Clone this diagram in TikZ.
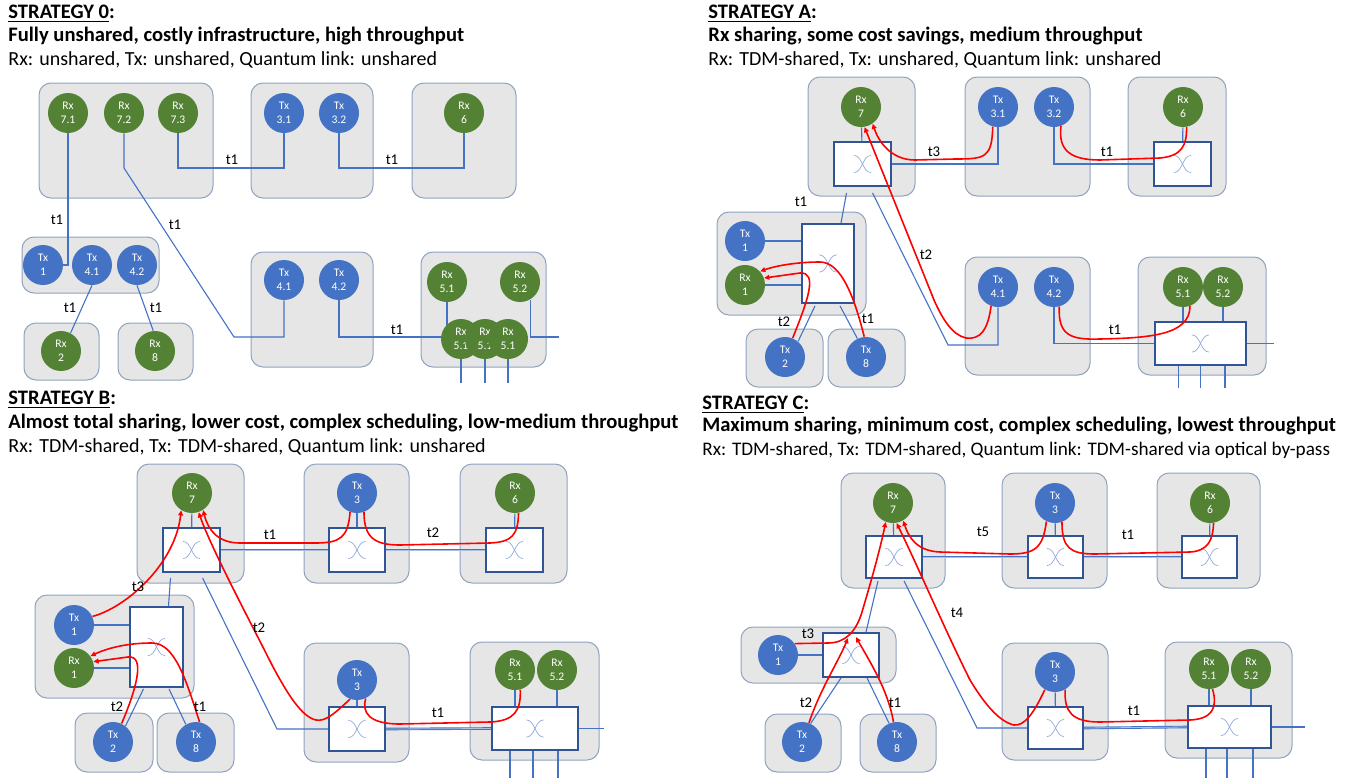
\documentclass[tikz,border=0pt]{standalone}
\usepackage{fontspec}
\setmainfont{Carlito}
\usetikzlibrary{arrows.meta,calc}
\definecolor{boxfill}{HTML}{E6E6E6}
\definecolor{boxline}{HTML}{8FA3C0}
\definecolor{rxgreen}{HTML}{548235}
\definecolor{txblue}{HTML}{4472C4}
\definecolor{swline}{HTML}{2F5597}
\definecolor{linkblue}{HTML}{4472C4}
\definecolor{symline}{HTML}{8FAADC}
\definecolor{tdmred}{HTML}{FF0000}
\pgfdeclarelayer{boxes}
\pgfdeclarelayer{links}
\pgfsetlayers{boxes,links,main}
\newcommand{\devfont}{\fontsize{5.8}{6.8}\selectfont}
\newcommand{\lblfont}{\fontsize{7.4}{8.5}\selectfont}
\newcommand{\headfont}{\fontsize{10.3}{12}\selectfont}
\newcommand{\subfont}{\fontsize{10}{12}\selectfont}
\begin{document}
\begin{tikzpicture}[x=0.5pt,y=-0.5pt,
  box/.style={fill=boxfill, draw=boxline, line width=0.5pt, rounded corners=6pt},
  dev/.style={circle, inner sep=0pt, minimum size=20pt, text=white, font=\devfont, align=center},
  rx/.style={dev, fill=rxgreen},
  tx/.style={dev, fill=txblue},
  sw/.style={rectangle, draw=swline, line width=0.9pt, fill=white, inner sep=0pt,
    path picture={
      \draw[symline, line width=0.35pt]
        ([shift={(-4.3pt,4.3pt)}]path picture bounding box.center)
        .. controls ([shift={(0pt,4.3pt)}]path picture bounding box.center)
        and ([shift={(0pt,-4.3pt)}]path picture bounding box.center)
        .. ([shift={(4.3pt,-4.3pt)}]path picture bounding box.center);
      \draw[symline, line width=0.35pt]
        ([shift={(4.3pt,4.3pt)}]path picture bounding box.center)
        .. controls ([shift={(0pt,4.3pt)}]path picture bounding box.center)
        and ([shift={(0pt,-4.3pt)}]path picture bounding box.center)
        .. ([shift={(-4.3pt,-4.3pt)}]path picture bounding box.center);
    }},
  link/.style={draw=linkblue, line width=0.55pt},
  trunk/.style={draw=linkblue, line width=0.45pt, double=linkblue!45, double distance=0.4pt},
  tdm/.style={draw=tdmred, line width=0.8pt},
  tdmarrow/.style={tdm, -{Triangle[length=2.6pt,width=2.4pt]}},
  lbl/.style={font=\lblfont, inner sep=0pt},
  head/.style={font=\headfont, inner sep=0pt, anchor=base west},
  sub/.style={font=\subfont, inner sep=0pt, anchor=base west}]
\useasboundingbox (0,0) rectangle (1366,777);

% ---------------- headings ----------------
\node[head] (h0a) at (8,18.5) {\textbf{\underline{STRATEGY 0}:}};
\node[head] (h0b) at (8,41.5) {\textbf{Fully unshared, costly infrastructure, high throughput}};
\node[sub] (h0c) at (8,65.5) {Rx: unshared, Tx: unshared, Quantum link: unshared};
\node[head] (hAa) at (708,18.5) {\textbf{\underline{STRATEGY A}:}};
\node[head] (hAb) at (708,41.5) {\textbf{Rx sharing, some cost savings, medium throughput}};
\node[sub] (hAc) at (708,65.5) {Rx: TDM-shared, Tx: unshared, Quantum link: unshared};
\node[head] (hBa) at (8,404) {\textbf{\underline{STRATEGY B}:}};
\node[head] (hBb) at (8,428) {\textbf{Almost total sharing, lower cost, complex scheduling, low-medium throughput}};
\node[sub] (hBc) at (8,452) {Rx: TDM-shared, Tx: TDM-shared, Quantum link: unshared};
\node[head] (hCa) at (702,409) {\textbf{\underline{STRATEGY C}:}};
\node[head] (hCb) at (702,431) {\textbf{Maximum sharing, minimum cost, complex scheduling, lowest throughput}};
\node[sub, font=\fontsize{9.6}{12}\selectfont] (hCc) at (702,455) {Rx: TDM-shared, Tx: TDM-shared, Quantum link: TDM-shared via optical by-pass};

% ---------------- node boxes ----------------
\begin{pgfonlayer}{boxes}
  % strategy 0
  \draw[box] (39,83) rectangle (213,198);
  \draw[box] (251,83) rectangle (373,198);
  \draw[box] (412,83) rectangle (516,198);
  \draw[box] (22,237) rectangle (159,293);
  \draw[box] (24,323) rectangle (99,380);
  \draw[box] (118,323) rectangle (193,380);
  \draw[box] (251,252) rectangle (373,367);
  \draw[box] (421,252) rectangle (546,367);
  % strategy A
  \draw[box] (808,77) rectangle (915,196);
  \draw[box] (965,77) rectangle (1090,196);
  \draw[box] (1128,77) rectangle (1226,196);
  \draw[box] (717,212) rectangle (866,315);
  \draw[box] (746,329) rectangle (823,387);
  \draw[box] (828,329) rectangle (905,387);
  \draw[box] (965,257) rectangle (1090,375);
  \draw[box] (1138,257) rectangle (1266,375);
  % strategy B
  \draw[box] (137,464) rectangle (244,583);
  \draw[box] (304,464) rectangle (409,583);
  \draw[box] (460,464) rectangle (567,583);
  \draw[box] (35,595) rectangle (194,698);
  \draw[box] (75,713) rectangle (153,772);
  \draw[box] (157,713) rectangle (234,772);
  \draw[box] (304,643) rectangle (409,762);
  \draw[box] (470,642) rectangle (599,760);
  % strategy C
  \draw[box] (841,473) rectangle (945,588);
  \draw[box] (1002,473) rectangle (1107,588);
  \draw[box] (1157,473) rectangle (1260,588);
  \draw[box] (741,627) rectangle (896,683);
  \draw[box] (765,714) rectangle (841,772);
  \draw[box] (860,714) rectangle (936,772);
  \draw[box] (1002,643) rectangle (1108,760);
  \draw[box] (1165,642) rectangle (1292,758);
\end{pgfonlayer}

% ================= STRATEGY 0 =================
\node[rx] (z71) at (68,113) {Rx\\7.1};
\node[rx] (z72) at (124,113) {Rx\\7.2};
\node[rx] (z73) at (178,113) {Rx\\7.3};
\node[tx] (z31) at (284,113) {Tx\\3.1};
\node[tx] (z32) at (339,113) {Tx\\3.2};
\node[rx] (z6) at (464,113) {Rx\\6};
\node[tx] (z1) at (43,265) {Tx\\1};
\node[tx] (z41) at (92,265) {Tx\\4.1};
\node[tx] (z42) at (137,265) {Tx\\4.2};
\node[rx] (z2) at (61,351) {Rx\\2};
\node[rx] (z8) at (155,351) {Rx\\8};
\node[tx] (z41b) at (284,280) {Tx\\4.1};
\node[tx] (z42b) at (339,280) {Tx\\4.2};
\node[rx] (z51) at (447,282) {Rx\\5.1};
\node[rx] (z52) at (520,282) {Rx\\5.2};
\node[rx] (z51p) at (461,339) {Rx\\5.1};
\node[rx] (z51q) at (485,339) {Rx\\5.1};
\node[rx] (z51r) at (508,339) {Rx\\5.1};
\coordinate (z5out) at (559,337);

\begin{pgfonlayer}{links}
  \draw[link] (z73) -- ++(0,55) -| (z31);
  \draw[link] (z32) -- ++(0,55) -| (z6);
  \draw[link] (z71) |- (z1);
  \draw[link] (z72) -- ++(0,55) -- (234,337) -| (z41b);
  \draw[link] (z41.south) -- (z2.62);
  \draw[link] (z42.south) -- (z8.95);
  \draw[link] (z42b) -- ++(0,57) -| (z51);
  \draw[link] (z52.-60) |- (z5out);
  \draw[link] (z51p.south) -- ++(0,24);
  \draw[link] (z51q.south) -- ++(0,24);
  \draw[link] (z51r.south) -- ++(0,24);
\end{pgfonlayer}

\node[lbl] (lz1) at (232,160) {t1};
\node[lbl] (lz2) at (392,160) {t1};
\node[lbl] (lz3) at (57,220) {t1};
\node[lbl] (lz4) at (175,225) {t1};
\node[lbl] (lz5) at (70,308) {t1};
\node[lbl] (lz6) at (156,308) {t1};
\node[lbl] (lz7) at (397,330) {t1};

% ================= STRATEGY A =================
\node[rx] (a7) at (861,107) {Rx\\7};
\node[sw, minimum width=28.5pt, minimum height=22pt] (as1) at (862.5,164) {};
\node[tx] (a31) at (998,107) {Tx\\3.1};
\node[tx] (a32) at (1054,107) {Tx\\3.2};
\node[rx] (a6) at (1183,107) {Rx\\6};
\node[sw, minimum width=28.5pt, minimum height=22pt] (as2) at (1182.5,164) {};
\node[tx] (a1) at (745,241) {Tx\\1};
\node[rx] (ar1) at (745,285) {Rx\\1};
\node[sw, minimum width=26pt, minimum height=39.5pt] (as3) at (828,263.5) {};
\node[tx] (a2) at (785,357) {Tx\\2};
\node[tx] (a8) at (866,357) {Tx\\8};
\node[tx] (a41) at (998,287) {Tx\\4.1};
\node[tx] (a42) at (1054,287) {Tx\\4.2};
\node[rx] (a51) at (1183,287) {Rx\\5.1};
\node[rx] (a52) at (1223,287) {Rx\\5.2};
\node[sw, minimum width=45.5pt, minimum height=21.5pt] (as4) at (1200.5,343.5) {};

\begin{pgfonlayer}{links}
  \draw[link] (a7) -- (as1);
  \draw[link] (a6) -- (as2);
  \draw[link] (as1.east) -| (a31);
  \draw[link] (a32) |- (as2.west);
  \draw[link] ($(as1.south)+(-16,6)$) -- ($(as3.north)+(13,0)$);
  \draw[link] ($(as1.south)+(10,6)$) -- (948,345) -| (a41);
  \draw[link] (a1) -- (a1 -| as3.west);
  \draw[link] (ar1) -- (ar1 -| as3.west);
  \draw[link] ($(as3.south)+(-13,2)$) -- (a2.50);
  \draw[link] ($(as3.south)+(12,2)$) -- (a8.115);
  \draw[link] (a42) |- (as4.west);
  \draw[link] (a51) -- (a51 |- as4.north);
  \draw[link] (a52) -- (a52 |- as4.north);
  \draw[link] (as4.east) -- ++(27,0);
  \draw[link] ($(as4.south)+(-22,0)$) -- ++(0,22);
  \draw[link] (as4.south) -- ++(0,22);
  \draw[link] ($(as4.south)+(24.5,0)$) -- ++(0,22);
\end{pgfonlayer}

\draw[tdmarrow] (a31.255) .. controls (992,158) and (985,159) .. (955,159) -- (915,160) .. controls (890,160) and (878,140) .. (a7.-55);
\draw[tdm] (a32.-70) .. controls (1058,150) and (1070,160) .. (1100,160) -- (1160,158) .. controls (1182,156) and (1187,145) .. (a6.-80);
\draw[tdmarrow] (a41.-110) .. controls (988,330) and (980,340) .. (966,338) .. controls (952,335) and (942,318) .. (934,300) -- (a7.-80);
\draw[tdmarrow] (a2.68) .. controls (808,300) and (818,272) .. (800,273) -- (ar1.20);
\draw[tdmarrow] (a8.95) .. controls (855,300) and (842,262) .. (820,262) .. controls (800,262) and (778,265) .. (ar1.42);
\draw[tdm] (a42.-75) .. controls (1058,335) and (1070,340) .. (1100,339) .. controls (1150,338) and (1190,335) .. (a51.-70);

\node[lbl] (la1) at (934,152) {t3};
\node[lbl] (la2) at (1107,152) {t1};
\node[lbl] (la3) at (801,202) {t1};
\node[lbl] (la4) at (926,255) {t2};
\node[lbl] (la5) at (784,322) {t2};
\node[lbl] (la6) at (868,319) {t1};
\node[lbl] (la7) at (1115,330) {t1};

% ================= STRATEGY B =================
\node[rx] (b7) at (192,493) {Rx\\7};
\node[sw, minimum width=28.5pt, minimum height=22pt] (bs1) at (191.5,550) {};
\node[tx] (b3) at (357,493) {Tx\\3};
\node[sw, minimum width=28pt, minimum height=22pt] (bs2) at (357,550) {};
\node[rx] (b6) at (515,493) {Rx\\6};
\node[sw, minimum width=28.5pt, minimum height=22pt] (bs3) at (514.5,550) {};
\node[tx] (b1) at (74,625) {Tx\\1};
\node[rx] (br1) at (74,668) {Rx\\1};
\node[sw, minimum width=26.5pt, minimum height=40pt] (bs4) at (156.5,647) {};
\node[tx] (b2) at (113,742) {Tx\\2};
\node[tx] (b8) at (196,742) {Tx\\8};
\node[tx] (b3b) at (357,680) {Tx\\3};
\node[sw, minimum width=28pt, minimum height=22pt] (bs5) at (357,729) {};
\node[rx] (b51) at (515,670) {Rx\\5.1};
\node[rx] (b52) at (557,670) {Rx\\5.2};
\node[sw, minimum width=43pt, minimum height=21.5pt] (bs6) at (535,728.5) {};

\begin{pgfonlayer}{links}
  \draw[link] (b7) -- (bs1);
  \draw[link] (b3) -- (bs2);
  \draw[link] (b6) -- (bs3);
  \draw[link] (b3b) -- (bs5);
  \draw[trunk] (bs1.east) -- (bs2.west);
  \draw[trunk] (bs2.east) -- (bs3.west);
  \draw[trunk] (bs5.east) -- (bs6.west);
  \draw[link] ($(bs1.south)+(-21,5)$) -- ($(bs4.north)+(12,0)$);
  \draw[link] ($(bs1.south)+(11,5)$) -- (277,729) -- (bs5.west);
  \draw[link] (b1) -- (b1 -| bs4.west);
  \draw[link] (br1) -- (br1 -| bs4.west);
  \draw[link] ($(bs4.south)+(-13,1)$) -- (b2.52);
  \draw[link] ($(bs4.south)+(12.5,1)$) -- (b8.120);
  \draw[link] (b51) -- (b51 |- bs6.north);
  \draw[link] (b52) -- (b52 |- bs6.north);
  \draw[link] (bs6.east) -- ++(25,0);
  \draw[link] ($(bs6.south)+(-25,0)$) -- ++(0,28);
  \draw[link] ($(bs6.south)+(-2,0)$) -- ++(0,28);
  \draw[link] ($(bs6.south)+(23,0)$) -- ++(0,28);
\end{pgfonlayer}

\draw[tdmarrow] (b3.-110) .. controls (348,538) and (340,543) .. (315,543) -- (240,543) .. controls (218,543) and (208,530) .. (b7.-57);
\draw[tdm] (b3.-70) .. controls (364,538) and (375,545) .. (400,545) -- (490,543) .. controls (512,542) and (518,535) .. (b6.-80);
\draw[tdmarrow] (b1.25) .. controls (125,608) and (175,565) .. (b7.-122);
\draw[tdmarrow] (b3b.-110) .. controls (336,712) and (326,722) .. (316,720) .. controls (302,717) and (288,695) .. (272,665) .. controls (252,625) and (212,550) .. (b7.-71);
\draw[tdm] (b3b.-65) .. controls (362,712) and (368,724) .. (400,724) -- (490,722) .. controls (515,721) and (521,710) .. (b51.-75);
\draw[tdmarrow] (b2.65) .. controls (136,690) and (146,655) .. (128,657) -- (br1.18);
\draw[tdmarrow] (b8.80) .. controls (186,680) and (175,643) .. (152,643) .. controls (130,643) and (110,647) .. (br1.36);

\node[lbl] (lb1) at (270,535) {t1};
\node[lbl] (lb2) at (433,533) {t2};
\node[lbl] (lb3) at (138,587) {t3};
\node[lbl] (lb4) at (259,628) {t2};
\node[lbl] (lb5) at (117,707) {t2};
\node[lbl] (lb6) at (200,707) {t1};
\node[lbl] (lb7) at (438,713) {t1};

% ================= STRATEGY C =================
\node[rx] (c7) at (893,503) {Rx\\7};
\node[sw, minimum width=28pt, minimum height=21pt] (cs1) at (894,557) {};
\node[tx] (c3) at (1055,503) {Tx\\3};
\node[sw, minimum width=27.5pt, minimum height=21pt] (cs2) at (1055.5,557) {};
\node[rx] (c6) at (1210,503) {Rx\\6};
\node[sw, minimum width=27.5pt, minimum height=21pt] (cs3) at (1209.5,557) {};
\node[tx] (c1) at (778,655) {Tx\\1};
\node[sw, minimum width=28pt, minimum height=22pt] (cs4) at (851,655) {};
\node[tx] (c2) at (802,742) {Tx\\2};
\node[tx] (c8) at (897,742) {Tx\\8};
\node[tx] (c3b) at (1055,672) {Tx\\3};
\node[sw, minimum width=27.5pt, minimum height=21pt] (cs5) at (1055.5,728) {};
\node[rx] (c51) at (1209,669) {Rx\\5.1};
\node[rx] (c52) at (1251,669) {Rx\\5.2};
\node[sw, minimum width=41.5pt, minimum height=21pt] (cs6) at (1229.5,727) {};
\coordinate (cin2) at ($(cs4.north)+(-3,6)$);
\coordinate (cin1) at ($(cs4.north)+(5,5)$);

\begin{pgfonlayer}{links}
  \draw[link] (c7) -- (cs1);
  \draw[link] (c3) -- (cs2);
  \draw[link] (c6) -- (cs3);
  \draw[link] (c3b) -- (cs5);
  \draw[trunk] (cs1.east) -- (cs2.west);
  \draw[trunk] (cs2.east) -- (cs3.west);
  \draw[trunk] (cs5.east) -- (cs6.west);
  \draw[link] ($(cs4.north)+(15,0)$) -- ($(cs1.south)+(-16,2)$);
  \draw[link] ($(cs1.south)+(10,2)$) -- (977,728) -- (cs5.west);
  \draw[link] (c1) -- (c1 -| cs4.west);
  \draw[link] ($(cs4.south)+(-10,0)$) -- (c2.65);
  \draw[link] ($(cs4.south)+(16,0)$) -- (c8.113);
  \draw[link] (c51) -- (c51 |- cs6.north);
  \draw[link] (c52) -- (c52 |- cs6.north);
  \draw[link] (cs6.east) -- ++(33,0);
  \draw[link] ($(cs6.south)+(-23.5,0)$) -- ++(0,30);
  \draw[link] ($(cs6.south)+(-2.5,0)$) -- ++(0,30);
  \draw[link] ($(cs6.south)+(23.5,0)$) -- ++(0,30);
\end{pgfonlayer}

\draw[tdmarrow] (c3.-115) .. controls (1043,548) and (1035,554) .. (1010,554) -- (940,552) .. controls (915,551) and (908,535) .. (c7.-60);
\draw[tdm] (c3.-70) .. controls (1062,548) and (1070,554) .. (1095,554) -- (1190,552) .. controls (1208,551) and (1213,540) .. (c6.-80);
\draw[tdmarrow] (c1.34) -- (828,643) .. controls (845,643) and (856,632) .. (862,612) .. controls (870,585) and (880,550) .. (c7.-111);
\draw[tdmarrow] (c2.70) .. controls (820,690) and (838,662) .. (cin2);
\draw[tdmarrow] (c8.100) .. controls (888,690) and (870,662) .. (cin1);
\draw[tdmarrow] (c3b.-120) .. controls (1033,715) and (1024,726) .. (1014,725) .. controls (1000,722) and (985,705) .. (970,680) .. controls (945,630) and (915,560) .. (c7.-80);
\draw[tdm] (c3b.-60) .. controls (1064,712) and (1072,722) .. (1100,722) -- (1190,720) .. controls (1212,719) and (1218,708) .. (c51.-80);

\node[lbl] (lc1) at (983,532) {t5};
\node[lbl] (lc2) at (1128,535) {t1};
\node[lbl] (lc3) at (957,613) {t4};
\node[lbl] (lc4) at (808,634) {t3};
\node[lbl] (lc5) at (806,703) {t2};
\node[lbl] (lc6) at (895,703) {t1};
\node[lbl] (lc7) at (1134,711) {t1};
\end{tikzpicture}
\end{document}
